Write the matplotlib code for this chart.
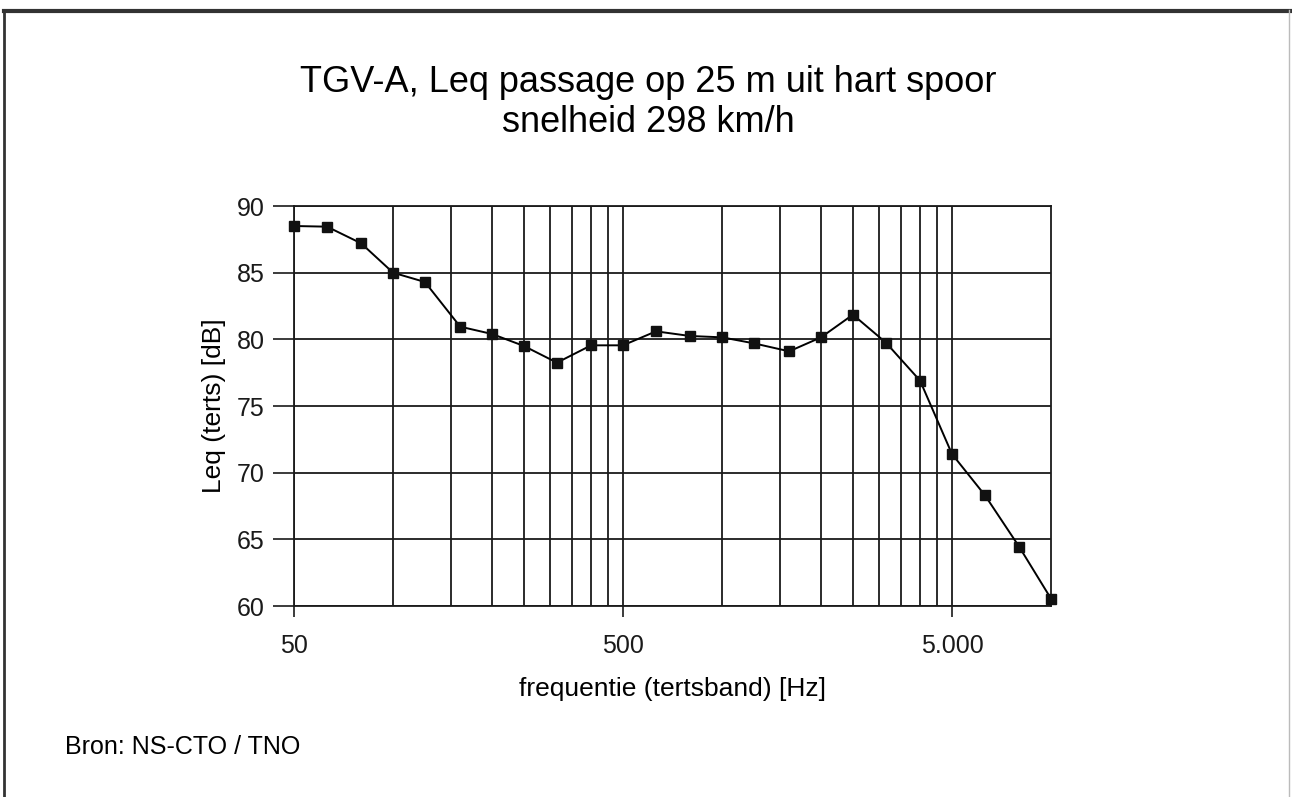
import matplotlib.pyplot as plt
from matplotlib.lines import Line2D

plt.rcParams['font.family'] = ['Liberation Sans', 'DejaVu Sans']

# third-octave band centre frequencies and measured Leq
freq = [50, 63, 80, 100, 125, 160, 200, 250, 315, 400, 500, 630, 800,
        1000, 1250, 1600, 2000, 2500, 3150, 4000, 5000, 6300, 8000, 10000]
leq = [88.5, 88.45, 87.2, 85.0, 84.3, 80.95, 80.4, 79.5, 78.25, 79.55, 79.55,
       80.6, 80.25, 80.15, 79.7, 79.1, 80.15, 81.85, 79.75, 76.9, 71.4,
       68.3, 64.45, 60.55]

major_ticks = [50, 500, 5000]
major_labels = ['50', '500', '5.000']
minor_grid = [100, 150, 200, 250, 300, 350, 400, 450,
              1000, 1500, 2000, 2500, 3000, 3500, 4000, 4500]
y_ticks = [60, 65, 70, 75, 80, 85, 90]

W, H = 1292, 797
fig = plt.figure(figsize=(W / 100, H / 100), dpi=100)
ax = fig.add_axes([294 / W, 1 - 606 / H, (1051 - 294) / W, (606 - 206) / H])

ax.plot(freq, leq, color='black', lw=1.4, marker='s', ms=7.5,
        markerfacecolor='#111111', markeredgecolor='#111111', zorder=3,
        clip_on=False)

ax.set_xscale('log')
ax.set_xlim(50, 10000)
ax.set_ylim(60, 90)
ax.set_xticks(major_ticks)
ax.set_xticklabels(major_labels)
ax.set_xticks(minor_grid, minor=True)
ax.set_xticklabels([], minor=True)
ax.set_yticks(y_ticks)

ax.grid(True, which='major', color='#1a1a1a', lw=1.3)
ax.grid(True, which='minor', axis='x', color='#1a1a1a', lw=1.3)
ax.tick_params(axis='x', which='minor', length=0)
ax.tick_params(axis='both', which='major', direction='out', length=8,
               width=1.2, colors='#1a1a1a', labelsize=18)
ax.tick_params(axis='y', length=15, pad=6)
ax.tick_params(axis='x', pad=12)
for s in ax.spines.values():
    s.set_color('#1a1a1a')
    s.set_linewidth(1.3)

ax.set_xlabel('frequentie (tertsband) [Hz]', fontsize=19, labelpad=14)
ax.set_ylabel('Leq (terts) [dB]', fontsize=19, labelpad=8)

fig.text(0.502, 1 - 82 / H, 'TGV-A, Leq passage op 25 m uit hart spoor',
         ha='center', va='center', fontsize=26)
fig.text(0.502, 1 - 123 / H, 'snelheid 298 km/h',
         ha='center', va='center', fontsize=26)
fig.text(65 / W, 1 - 747 / H, 'Bron: NS-CTO / TNO', ha='left', va='center',
         fontsize=18)

# outer frame of the scanned figure
fig.add_artist(Line2D([4 / W, 4 / W], [0, 1 - 10 / H], color='#333333', lw=2,
                      transform=fig.transFigure))
fig.add_artist(Line2D([4 / W, 1], [1 - 11 / H, 1 - 11 / H], color='#333333', lw=3,
                      transform=fig.transFigure))
fig.add_artist(Line2D([1289 / W, 1289 / W], [0, 1 - 10 / H], color='#bbbbbb', lw=1,
                      transform=fig.transFigure))

fig.savefig('out.png', dpi=100)
